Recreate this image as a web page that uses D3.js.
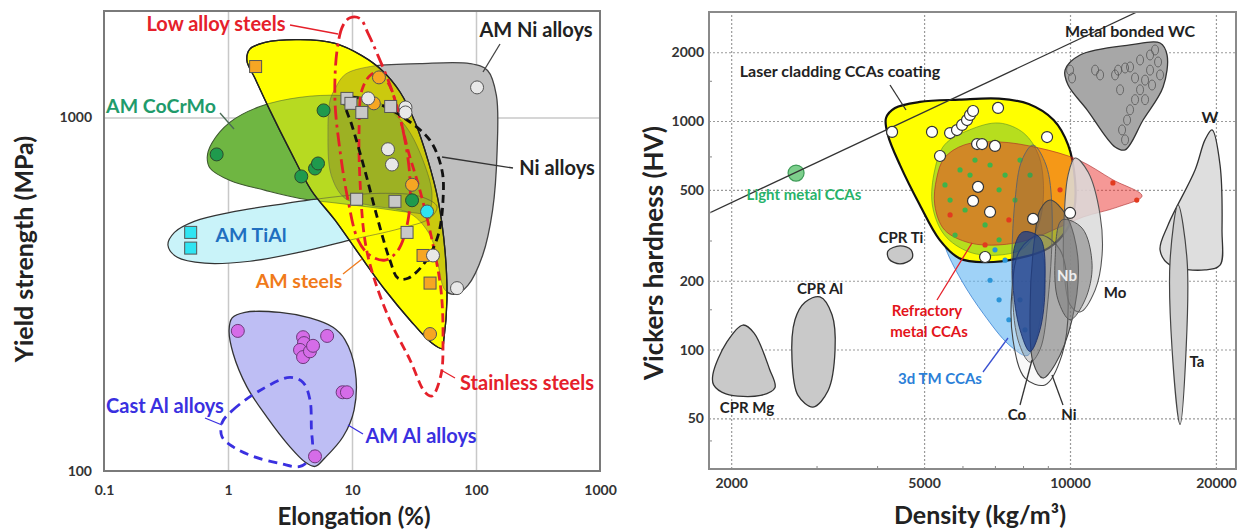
<!DOCTYPE html>
<html><head><meta charset="utf-8">
<script src="https://cdn.jsdelivr.net/npm/d3@7/dist/d3.min.js"></script>
<style>
html,body{margin:0;padding:0;background:#fff;}
svg text{font-family:Lato,"Open Sans","DejaVu Sans",sans-serif;font-weight:700;}
</style></head><body>
<svg id="chart" width="1242" height="531"></svg>
<script>
// ================= LEFT PANEL DATA: Elongation (%) vs Yield strength (MPa) =================
const elongTicks = [0.1, 1, 10, 100, 1000];
const elongGrid = [1, 10, 100];
const strengthTicks = [100, 1000];
const strengthGrid = [1000];

const amSteelsRegion = [[1.50,1560],[1.99,1630],[3.81,1660],[7.3,1620],[12.0,1496],[17.5,1358],[24.4,1180],[32.2,970],[41,756],[49.5,583],[56.2,421],[58.3,304],[55,235],[53.2,222],[44,230],[29.4,267],[18.5,325],[11.6,407],[7.3,512],[4.7,622],[3.16,807],[2.18,1047],[1.65,1290],[1.42,1449]];
const amNiRegion = [[7.3,1206],[8.8,1323],[14,1393],[35.3,1420],[89.5,1420],[124,1358],[146,1154],[148,807],[136,546],[113,407],[86,335],[67.7,316],[56.2,325],[49.5,382],[42.6,464],[29.4,535],[14,564],[8.8,590],[6.8,686],[6.4,919],[6.65,1117]];
const amCoCrMoRegion = [[0.68,771],[0.74,845],[1.04,970],[1.81,1074],[3.81,1140],[8.0,1154],[15.3,1117],[26.7,951],[38.8,730],[44.2,602],[41,539],[29.4,539],[16.8,553],[8.0,571],[3.81,590],[2.0,622],[1.04,663],[0.72,717]];
const amTiAlRegion = [[0.328,435],[0.37,473],[0.54,509],[1.04,539],[2.63,568],[6.65,594],[16.8,610],[35.3,598],[48.4,560],[42.6,519],[24.4,485],[9.64,450],[3.81,416],[1.50,392],[0.65,387],[0.39,402]];
const amAlRegion = [[1.08,271],[1.37,281],[2.63,281],[4.58,271],[7.03,255],[8.78,235],[10.6,193],[10.4,149],[8.46,125],[6.06,109],[5.03,103],[4.18,106],[3.16,117],[2.06,142],[1.42,173],[1.10,215],[1.02,250]];
const castAlRegion = [[0.895,137],[1.10,149],[1.81,169],[3.16,184],[4.03,178],[4.58,159],[4.7,133],[4.7,110],[3.81,103],[2.63,105],[1.59,110],[1.10,117],[0.895,125]];
const stainlessRegion = [[16.2,1340],[19.5,1256],[23.5,1047],[28.3,807],[35.3,622],[44.2,450],[52.2,325],[54.2,235],[52.2,187],[44.2,163],[38.8,167],[29.4,206],[20.2,267],[14.8,358],[12.7,450],[11.6,663],[11.4,919],[12.0,1192],[14.0,1314]];
const lowAlloyRegion = [[9.64,1914],[8.46,1820],[7.57,1545],[7.29,1117],[8.0,807],[9.29,583],[11.2,450],[14.0,407],[18.5,395],[23.5,421],[28.3,512],[29.4,663],[25.8,919],[21,1192],[16.2,1496],[13.5,1726],[11.6,1905]];
const niAlloysRegion = [[8.78,1132],[14,1117],[26.7,993],[42.6,861],[53.2,708],[54.2,583],[49.5,464],[38.8,389],[28.3,351],[23.5,351],[20.2,395],[16.2,512],[12.7,708],[10,948],[8.78,1082]];

const amSteelSquares = [[1.67,1393],[37.4,407],[42.6,340]];
const amSteelCircles = [[16.5,1298],[15,1096],[30.5,645],[42.6,244]];
const amCoCrMoPoints = [[0.81,786],[3.9,681],[5.03,717],[5.32,741],[5.9,1047],[30.5,583]];
const amTiAlSquares = [[0.50,473],[0.50,427]];
const amTiAlCircles = [[40.3,542]];
const niSquares = [[9.1,1132],[9.8,1096],[12,1033],[20.5,1074],[10.9,587],[22.2,579],[27.8,473]];
const niCircles = [[13.5,1132],[27,1067],[27,1033],[19.5,813],[21,736],[45,407],[102,1216],[70.3,329]];
const amAlPoints = [[1.20,249],[4.03,239],[4.1,230],[3.81,220],[4.03,210],[4.58,218],[4.85,226],[6.3,241],[8.4,167],[9.1,167],[5.03,110]];

// ================= RIGHT PANEL DATA: Density (kg/m3) vs Vickers hardness (HV) =================
const densityTicks = [2000, 5000, 10000, 20000];
const densityMinor = [3000, 4000, 6000, 7000, 8000, 9000];
const hardnessTicks = [50, 100, 200, 500, 1000, 2000];
const hardnessMinor = [40, 150, 300, 400, 700, 1500];

const laserCoatingRegion = [[4173,1031],[4355,1140],[4900,1212],[5910,1240],[7140,1253],[8220,1187],[9250,1010],[9910,786],[10240,553],[10200,408],[9840,334],[9030,278],[7840,251],[6650,241],[5910,251],[5383,302],[4900,429],[4460,641],[4210,869]];
const lightGreenRegion = [[5260,611],[5508,786],[6200,914],[7140,980],[8030,885],[8610,710],[8820,500],[8610,351],[8030,278],[7140,259],[6200,267],[5508,317],[5200,429]];
const refractoryRegion = [[5508,690],[6050,786],[7140,810],[8610,763],[10390,677],[12260,553],[14080,470],[12530,420],[10640,380],[9460,341],[8220,302],[7140,287],[6200,293],[5508,334],[5260,429],[5310,564]];
const tmRegion = [[5383,388],[6810,408],[8220,351],[8820,246],[8740,149],[8430,105],[8150,94],[7480,105],[6650,142],[5970,201],[5508,287]];
const tmCoreRegion = [[7999,327],[8672,308],[8881,192],[8672,122],[8271,98],[7886,122],[7629,192],[7702,287]];
const feRegion = [[8390,785],[8923,642],[9182,408],[9009,165],[8672,100],[8271,88],[7812,110],[7593,201],[7702,451],[7961,675]];
const niRegion = [[9094,451],[9814,388],[10390,246],[10098,135],[9315,86],[8797,75],[8390,88],[8271,149],[8469,317],[8672,408]];
const coRegion = [[8672,317],[9538,273],[9909,165],[9628,95],[8881,70],[8076,75],[7629,110],[7593,182],[7886,273]];
const nbRegion = [[9628,369],[10589,340],[11106,234],[10741,165],[10003,135],[9446,165],[9315,246]];
const moRegion = [[10242,689],[10896,598],[11536,388],[11646,259],[11265,182],[10489,146],[10003,157],[9720,223],[9720,369],[9909,580]];
const cprMgRegion = [[1834,78],[1960,108],[2115,128],[2230,118],[2400,82],[2462,68],[2300,63],[1950,64],[1840,70]];
const cprAlRegion = [[3049,170],[3229,142],[3276,100],[3168,66],[2950,56],[2747,63],[2670,90],[2708,135],[2840,161]];
const cprTiRegion = [[4460,284],[4700,273],[4723,251],[4460,237],[4232,249],[4212,270]];
const wcRegion = [[9767,1670],[10489,1945],[13300,2152],[15338,2195],[15856,1945],[15559,1409],[14150,1010],[12989,748],[12386,770],[10845,1120],[9909,1437]];
const wRegion = [[19636,914],[20394,642],[20586,334],[20394,234],[18986,223],[16087,234],[15338,273],[15932,351],[18113,611],[18986,827]];
const taRegion = [[16708,429],[17438,246],[17357,100],[16866,47],[16240,100],[16087,246]];

const wcSamples = [[10003,1670],[10098,1543],[11265,1670],[11536,1591],[12386,1591],[12565,1670],[12989,1706],[13300,1724],[13948,1850],[14625,1945],[14978,2046],[15192,1813],[14625,1670],[14283,1510],[14765,1437],[13948,1370],[13620,1240],[14283,1240],[13300,1120],[13113,1010],[12805,914],[12989,827],[13620,1543],[12685,1370],[15338,1591]];
const laserCoatingPoints = [[4295,896],[5191,896],[5657,886],[5846,913],[5989,961],[6131,1010],[6219,1063],[6309,1106],[7105,1141],[8968,851],[6431,793],[6584,793],[7003,778],[5393,703],[6460,515],[6309,447],[6840,400],[8391,373],[10003,396],[6680,254]];
const lightMetalPoints = [[5522,525],[5931,611],[6368,675],[6840,642],[7346,580],[5657,451],[6075,408],[6680,351],[7140,500],[7702,451],[7886,675],[5792,317],[7140,302],[8271,580],[6219,580]];
const refractoryPoints = [[12260,536],[13730,451],[5657,388],[7480,369],[9538,500],[6680,287]];
const tmPoints = [[6840,201],[7140,165],[7480,135],[7886,165],[7346,246],[8076,122],[7003,273]];
const lightMetalCCA = [[2722,592]];
const coatingTrend = [[1800,395],[13740,3000]];

// ================= DRAWING =================
const svg = d3.select('#chart');
const xL = d3.scaleLog().domain([0.1,1000]).range([104,600]);
const yL = d3.scaleLog().domain([100,2000]).range([471,11]);
const xR = d3.scaleLog().domain([1800,22000]).range([709,1236]);
const yR = d3.scaleLog().domain([30,3000]).range([469,12]);

const closed = (x,y)=>d3.line().x(d=>x(d[0])).y(d=>y(d[1])).curve(d3.curveCatmullRomClosed.alpha(0.5));
const lineL = closed(xL,yL), lineR = closed(xR,yR);

const defs = svg.append('defs');
defs.append('clipPath').attr('id','clipL').append('rect').attr('x',104).attr('y',11).attr('width',496).attr('height',460);
defs.append('clipPath').attr('id','clipR').append('rect').attr('x',709).attr('y',12).attr('width',527).attr('height',457);
defs.append('clipPath').attr('id','clipSteel').append('path').attr('d',lineL(amSteelsRegion));

// ---------- LEFT ----------
const L = svg.append('g');
L.append('g').attr('transform','translate(0,471)')
  .call(d3.axisBottom(xL).tickValues(elongGrid).tickSize(-460).tickFormat(''))
  .call(g=>{g.select('.domain').remove(); g.selectAll('line').attr('stroke','#c8c8c8').attr('stroke-width',1.5);});
L.append('g').attr('transform','translate(104,0)')
  .call(d3.axisLeft(yL).tickValues(strengthGrid).tickSize(-496).tickFormat(''))
  .call(g=>{g.select('.domain').remove(); g.selectAll('line').attr('stroke','#c8c8c8').attr('stroke-width',1.5);});

const SL = L.append('g').attr('clip-path','url(#clipL)');
const area = (g,line,data,fill,stroke,sw,extra)=>{const p=g.append('path').attr('d',line(data)).attr('fill',fill).attr('stroke',stroke).attr('stroke-width',sw); if(extra) extra(p); return p;};
area(SL,lineL,amNiRegion,'#bfbfbf','#444',1.3);
area(SL,lineL,amCoCrMoRegion,'#6fb642','#3f5a30',1.1);
area(SL,lineL,amTiAlRegion,'#c9f3f9','#333',1.2);
area(SL,lineL,amSteelsRegion,'#ffff00','#222',1.3);
// overlaps seen through the yellow AM steels region
const inSteel = SL.append('g').attr('clip-path','url(#clipSteel)');
area(inSteel,lineL,amCoCrMoRegion,'#6fb642','#3f5a30',1,p=>p.attr('fill-opacity',0.5).attr('stroke-opacity',0.5));
area(inSteel,lineL,amNiRegion,'#6e6928','#555',1,p=>p.attr('fill-opacity',0.36).attr('stroke-opacity',0.45));
area(inSteel,lineL,amTiAlRegion,'none','#444',1,p=>p.attr('stroke-opacity',0.5));
SL.append('path').attr('d',lineL(amSteelsRegion)).attr('fill','none').attr('stroke','#222').attr('stroke-width',1.3);
area(SL,lineL,amAlRegion,'#bebef4','#333',1.3);
area(SL,lineL,castAlRegion,'none','#3a30e0',2.8,p=>p.attr('stroke-dasharray','9,6'));
area(SL,lineL,stainlessRegion,'none','#e5202a',2.8,p=>p.attr('stroke-dasharray','9,5'));
area(SL,lineL,lowAlloyRegion,'none','#e5202a',2.8,p=>p.attr('stroke-dasharray','14,5,3,5'));
area(SL,lineL,niAlloysRegion,'none','#111',2.8,p=>p.attr('stroke-dasharray','8,5'));

const circles=(g,x,y,data,r,fill,stroke,sw)=>g.append('g').selectAll('circle').data(data).join('circle')
  .attr('cx',d=>x(d[0])).attr('cy',d=>y(d[1])).attr('r',r).attr('fill',fill).attr('stroke',stroke).attr('stroke-width',sw);
const squares=(g,x,y,data,s,fill,stroke)=>g.append('g').selectAll('rect').data(data).join('rect')
  .attr('x',d=>x(d[0])-s/2).attr('y',d=>y(d[1])-s/2).attr('width',s).attr('height',s).attr('fill',fill).attr('stroke',stroke).attr('stroke-width',1);

circles(SL,xL,yL,amSteelCircles,6.5,'#f6a623','#555',1);
squares(SL,xL,yL,amSteelSquares,12,'#f6a623','#555');
circles(SL,xL,yL,amCoCrMoPoints,6.5,'#1f9a4d','#2d4a2d',1);
squares(SL,xL,yL,amTiAlSquares,12,'#2fe4f2','#555');
circles(SL,xL,yL,amTiAlCircles,6.5,'#2fe4f2','#555',1);
squares(SL,xL,yL,niSquares,12,'#c8c8c8','#555');
circles(SL,xL,yL,niCircles,6.5,'#e8e8e8','#555',1);
circles(SL,xL,yL,amAlPoints,6.5,'#d56ce8','#6a3a7a',1);

L.append('rect').attr('x',104).attr('y',11).attr('width',496).attr('height',460).attr('fill','none').attr('stroke','#7a7a7a').attr('stroke-width',2);
const styleAxis = g=>{g.select('.domain').remove(); g.selectAll('text').attr('font-size',14).attr('fill','#333').attr('font-family','Lato, sans-serif').attr('font-weight',700);};
L.append('g').attr('transform','translate(0,471)')
  .call(d3.axisBottom(xL).tickValues(elongTicks).tickSize(0).tickPadding(14).tickFormat(d3.format('~g'))).call(styleAxis);
L.append('g').attr('transform','translate(104,0)')
  .call(d3.axisLeft(yL).tickValues(strengthTicks).tickSize(0).tickPadding(12).tickFormat(d3.format('d'))).call(styleAxis);

// ---------- RIGHT ----------
const R = svg.append('g');
const dotted = g=>{g.select('.domain').remove(); g.selectAll('line').attr('stroke','#9a9a9a').attr('stroke-width',1.2).attr('stroke-dasharray','2,2');};
R.append('g').attr('transform','translate(0,469)')
  .call(d3.axisBottom(xR).tickValues(densityTicks).tickSize(-457).tickFormat('')).call(dotted);
R.append('g').attr('transform','translate(709,0)')
  .call(d3.axisLeft(yR).tickValues(hardnessTicks).tickSize(-527).tickFormat('')).call(dotted);

const SR = R.append('g').attr('clip-path','url(#clipR)');
area(SR,lineR,cprMgRegion,'#c9c9c9','#333',1.3);
area(SR,lineR,cprAlRegion,'#c9c9c9','#333',1.3);
area(SR,lineR,cprTiRegion,'#c9c9c9','#333',1.3);
area(SR,lineR,wcRegion,'#a7a7a7','#333',1.3);
area(SR,lineR,wRegion,'#dedede','#333',1.3);
area(SR,lineR,taRegion,'#cfcfcf','#444',1.2);
SR.append('g').selectAll('ellipse').data(wcSamples).join('ellipse')
  .attr('cx',d=>xR(d[0])).attr('cy',d=>yR(d[1])).attr('rx',3.5).attr('ry',5).attr('fill','none').attr('stroke','#555').attr('stroke-width',0.8);
area(SR,lineR,tmRegion,'rgba(95,180,242,0.6)','rgba(60,130,210,0.8)',1);
area(SR,lineR,laserCoatingRegion,'#ffff00','#111',2.2);
area(SR,lineR,lightGreenRegion,'rgba(110,190,60,0.5)','rgba(70,130,40,0.5)',1);
area(SR,lineR,refractoryRegion,'rgba(235,50,45,0.5)','rgba(170,40,40,0.6)',1);
circles(SR,xR,yR,lightMetalPoints,2.6,'#3fb34a','none',0);
circles(SR,xR,yR,refractoryPoints,2.6,'#e23a1f','none',0);
circles(SR,xR,yR,tmPoints,2.6,'#2a95d8','none',0);
area(SR,lineR,moRegion,'rgba(218,218,218,0.85)','#555',1.1);
area(SR,lineR,coRegion,'rgba(235,235,235,0.3)','#444',1.1);
area(SR,lineR,feRegion,'rgba(80,80,80,0.2)','#666',1);
area(SR,lineR,niRegion,'rgba(95,95,95,0.5)','#444',1.1);
area(SR,lineR,nbRegion,'rgba(125,125,125,0.55)','#555',1);
area(SR,lineR,tmCoreRegion,'rgba(25,60,140,0.75)','rgba(20,40,100,0.8)',1);
circles(SR,xR,yR,lightMetalCCA,8,'#7dcf8c','#3d9b57',1.2);
SR.append('path').datum(coatingTrend).attr('d',d3.line().x(d=>xR(d[0])).y(d=>yR(d[1])))
  .attr('stroke','#333').attr('stroke-width',1.3).attr('fill','none');
circles(SR,xR,yR,laserCoatingPoints,5.5,'#ffffff','#333',1.2);

R.append('g').attr('transform','translate(0,469)')
  .call(d3.axisTop(xR).tickValues(densityMinor).tickSize(3).tickFormat(''))
  .call(g=>{g.select('.domain').remove(); g.selectAll('line').attr('stroke','#888');});
R.append('g').attr('transform','translate(709,0)')
  .call(d3.axisRight(yR).tickValues(hardnessMinor).tickSize(3).tickFormat(''))
  .call(g=>{g.select('.domain').remove(); g.selectAll('line').attr('stroke','#888');});

R.append('rect').attr('x',709).attr('y',12).attr('width',527).attr('height',457).attr('fill','none').attr('stroke','#8a8a8a').attr('stroke-width',2);
R.append('g').attr('transform','translate(0,469)')
  .call(d3.axisBottom(xR).tickValues(densityTicks).tickSize(0).tickPadding(9).tickFormat(d3.format('d'))).call(styleAxis);
R.append('g').attr('transform','translate(709,0)')
  .call(d3.axisLeft(yR).tickValues(hardnessTicks).tickSize(0).tickPadding(5).tickFormat(d3.format('d'))).call(styleAxis);

// ---------- annotations (layout) ----------
const leaders = [
  [290,25,338,34,'#e5202a'],[500,44,483,72,'#444'],[220,113,234,129,'#4a6a55'],[513,168,442,157,'#333'],
  [343,274,362,259,'#f07a1a'],[455,378,441,370,'#e5202a'],[205,418,222,425,'#3a30e0'],[363,434,348,425,'#3a30e0'],
  [890,85,906,110,'#333'],[937,300,972,243,'#e5202a'],[983,372,1008,338,'#3a50d0'],[1020,405,1032,360,'#333'],[1063,405,1052,375,'#333']
];
svg.append('g').selectAll('line').data(leaders).join('line')
  .attr('x1',d=>d[0]).attr('y1',d=>d[1]).attr('x2',d=>d[2]).attr('y2',d=>d[3]).attr('stroke',d=>d[4]).attr('stroke-width',1.3);

const labels = [
  ['Low alloy steels',216,31,20,'#e5202a'],['AM Ni alloys',536,37,20,'#222'],['AM CoCrMo',161,113,19.5,'#1f9b6b'],
  ['AM TiAl',251,242,19.5,'#1f6fc0'],['Ni alloys',557,175,20,'#222'],['AM steels',299,288,19.5,'#f07a1a'],
  ['Stainless steels',527,390,20,'#e5202a'],['Cast Al alloys',165,413,20,'#3a30e0'],['AM Al alloys',421,443,20,'#3a30e0'],
  ['Metal bonded WC',1130,37,16,'#222'],['W',1210,123,16,'#222'],['Laser cladding CCAs coating',840,77,16,'#222'],
  ['Light metal CCAs',804,200,15,'#27b26a'],['CPR Ti',901,243,15,'#222'],['CPR Al',820,294,15,'#222'],['CPR Mg',747,413,15,'#222'],
  ['Refractory',927,316,15,'#e3141b'],['metal CCAs',929,337,15,'#e3141b'],['3d TM CCAs',940,384,15,'#2b7fd8'],
  ['Co',1017,420,15,'#222'],['Ni',1069,420,15,'#222'],['Nb',1067,281,15,'#eeeeee'],['Mo',1115,298,15,'#222'],['Ta',1197,367,15,'#222']
];
svg.append('g').selectAll('text').data(labels).join('text')
  .attr('x',d=>d[1]).attr('y',d=>d[2]).attr('font-size',d=>d[3]).attr('fill',d=>d[4]).attr('text-anchor','middle').text(d=>d[0]);

svg.append('text').attr('transform','translate(33,249) rotate(-90)').attr('text-anchor','middle').attr('font-size',25).attr('fill','#222').text('Yield strength (MPa)');
svg.append('text').attr('x',354).attr('y',525).attr('text-anchor','middle').attr('font-size',24).attr('fill','#222').text('Elongation (%)');
svg.append('text').attr('transform','translate(663,253) rotate(-90)').attr('text-anchor','middle').attr('font-size',26).attr('fill','#222').text('Vickers hardness (HV)');
svg.append('text').attr('x',980).attr('y',524).attr('text-anchor','middle').attr('font-size',25).attr('fill','#222').text('Density (kg/m³)');
</script></body></html>
